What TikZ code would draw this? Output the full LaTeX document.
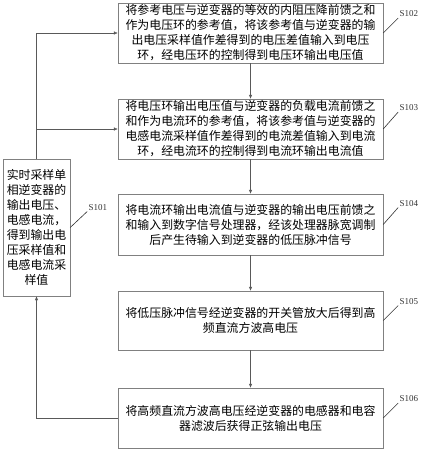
\documentclass[tikz,border=0pt]{standalone}
\usepackage{fontspec}
\setmainfont{Liberation Serif}
\newfontfamily\cjk{Noto Sans CJK SC}
\usetikzlibrary{arrows.meta,positioning}

\begin{document}
\begin{tikzpicture}[x=1pt,y=-1pt,
    stepbox/.style={draw=black!50,align=center,minimum width=265pt,minimum height=60pt,inner sep=0pt,font=\cjk\fontsize{11.9}{15}\selectfont},
    flow/.style={-{Latex[length=4pt,width=3.5pt]},black!65},
    line/.style={black!65},
    tag/.style={black!80,semithick},
    tagtext/.style={font=\fontsize{9}{10}\selectfont,inner sep=1pt}
]
\useasboundingbox (0,0) rectangle (421,450);
\node[stepbox,minimum width=67pt,minimum height=137pt] (sample) at (36.5,227.5) {实时采样单\\相逆变器的\\输出电压、\\电感电流，\\得到输出电\\压采样值和\\电感电流采\\样值};
\node[stepbox] (vloop) at (250.5,33) {将参考电压与逆变器的等效的内阻压降前馈之和\\作为电压环的参考值，将该参考值与逆变器的输\\出电压采样值作差得到的电压差值输入到电压\\环，经电压环的控制得到电压环输出电压值};
\node[stepbox] (iloop) at (250.5,129) {将电压环输出电压值与逆变器的负载电流前馈之\\和作为电流环的参考值，将该参考值与逆变器的\\电感电流采样值作差得到的电流差值输入到电流\\环，经电流环的控制得到电流环输出电流值};
\node[stepbox,minimum height=61pt] (pwm) at (250.5,224.5) {将电流环输出电流值与逆变器的输出电压前馈之\\和输入到数字信号处理器，经该处理器脉宽调制\\后产生待输入到逆变器的低压脉冲信号};
\node[stepbox,minimum height=59pt] (amp) at (250.5,320.5) {将低压脉冲信号经逆变器的开关管放大后得到高\\频直流方波高电压};
\node[stepbox] (filter) at (250.5,418) {将高频直流方波高电压经逆变器的电感器和电容\\器滤波后获得正弦输出电压};

% step to step
\draw[flow] (vloop) -- (iloop);
\draw[flow] (iloop) -- (pwm);
\draw[flow] (pwm) -- (amp);
\draw[flow] (amp) -- (filter);

% sampling feeds both loops
\coordinate (top) at (sample.north |- vloop.west);
\coordinate (mid) at (sample.north |- iloop.west);
\draw[line] (sample.north) -- (top);
\draw[flow] (top) -- (vloop.west);
\draw[flow] (mid) -- (iloop.west);
\draw[flow] (filter.west) -| (sample.south);

% step numbers
\draw[tag] (sample.east) -- ++(17,-16) node[anchor=south west,tagtext]{S101};
\draw[tag] (vloop.east) -- ++(15,-15) node[anchor=south west,tagtext]{S102};
\draw[tag] (iloop.east) -- ++(15,-17) node[anchor=south west,tagtext]{S103};
\draw[tag] (pwm.east) -- ++(15,-17) node[anchor=south west,tagtext]{S104};
\draw[tag] (amp.east) -- ++(15,-15) node[anchor=south west,tagtext]{S105};
\draw[tag] (filter.east) -- ++(15,-15) node[anchor=south west,tagtext]{S106};
\end{tikzpicture}
\end{document}
